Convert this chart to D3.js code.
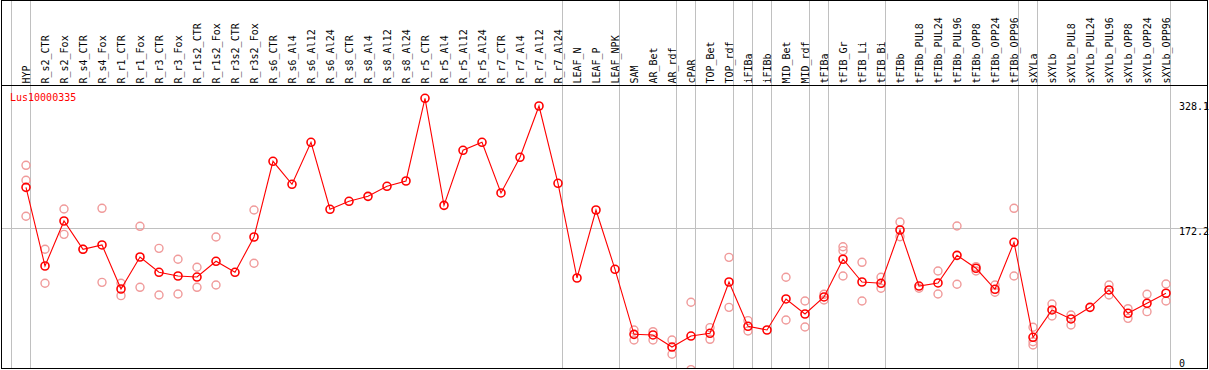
<!DOCTYPE html>
<html><head><meta charset="utf-8">
<script src="https://cdn.jsdelivr.net/npm/d3@7"></script>
<style>
html,body{margin:0;padding:0;background:#fff;}
svg{display:block;}
text{font-family:"DejaVu Sans Mono",monospace;font-size:10px;}
</style></head><body>
<svg id="chart" width="1209" height="370"></svg>
<script>
const title = "Lus10000335";
const categories = ["HYP","R_s2_CTR","R_s2_Fox","R_s4_CTR","R_s4_Fox","R_r1_CTR","R_r1_Fox","R_r3_CTR","R_r3_Fox","R_r1s2_CTR","R_r1s2_Fox","R_r3s2_CTR","R_r3s2_Fox","R_s6_CTR","R_s6_Al4","R_s6_Al12","R_s6_Al24","R_s8_CTR","R_s8_Al4","R_s8_Al12","R_s8_Al24","R_r5_CTR","R_r5_Al4","R_r5_Al12","R_r5_Al24","R_r7_CTR","R_r7_Al4","R_r7_Al12","R_r7_Al24","LEAF_N","LEAF_P","LEAF_NPK","SAM","AR_Bet","AR_rdf","cPAR","TOP_Bet","TOP_rdf","iFIBa","iFIBb","MID_Bet","MID_rdf","tFIBa","tFIB_Gr","tFIB_Li","tFIB_Bi","tFIBb","tFIBb_PUL8","tFIBb_PUL24","tFIBb_PUL96","tFIBb_OPP8","tFIBb_OPP24","tFIBb_OPP96","sXYLa","sXYLb","sXYLb_PUL8","sXYLb_PUL24","sXYLb_PUL96","sXYLb_OPP8","sXYLb_OPP24","sXYLb_OPP96"];
const means = [222.8,124.9,180.9,145.7,151.1,96.3,136.1,117.1,112.5,111.2,130.8,117.1,161.0,255.2,226.6,278.8,195.5,205.4,211.6,224.1,230.7,333.6,200.4,268.9,278.8,215.8,260.2,324.0,227.8,110.0,194.6,120.8,39.9,39.1,24.1,37.8,41.2,105.0,49.9,45.3,83.9,65.2,86.4,133.3,105.0,103.4,169.7,100.0,103.8,138.2,122.1,95.9,154.4,36.2,70.2,59.0,73.5,95.1,66.1,78.5,91.0];
const replicates = [
  [250.2,231.6,186.8],[145.7,103.4],[195.8,164.3],[145.7],[196.7,104.6],[103.4,88.0],[174.3,98.4],[146.9,88.8],[133.3,90.1],[123.3,98.4],[161.0,101.3],[],[194.6,128.3],
  [],[],[],[],[],[],[],[],[],[],[],[],[],[],[],[],[],[],[],
  [45.3,32.8],[43.2,32.8],[32.8,15.1],[79.8,-4],[48.2,33.7],[135.7,73.5],[56.9,44.0],[],[110.9,57.7],[81.4,49.0],[89.7,82.6],[148.9,144.0,112.5],[129.5,81.4],[110.9,97.2],
  [179.7,161.4],[97.2],[118.7,90.1],[174.7,102.2],[124.1,118.7],[101.3,92.2],[196.7,112.5],
  [48.7,30.7,26.6],[77.6,62.7],[64.0,51.5],[],[101.3,88.8],[71.8,59.8],[89.7,68.1],[102.5,81.4]
];
const yTickValues = [328.1, 172.2, 0];
const yTickLabels = ["328.1", "172.2", "0"];
const separatorIndices = [-1,0,28,31,34,35,37,38,39,41,42,45,52,53,60];

const W = 1209, H = 370;
const svg = d3.select("#chart");
const x = d3.scaleLinear().domain([0, categories.length - 1]).range([26, 1166]);
const y = d3.scaleLinear().domain([0, 328.1]).range([366.4, 102.7]);

svg.append("defs").append("clipPath").attr("id","plot")
  .append("rect").attr("x",2).attr("y",86).attr("width",1205).attr("height",282);

// vertical separators
svg.append("g").selectAll("line").data(separatorIndices).join("line")
  .attr("x1", d => Math.round(x(d)) + 4.5).attr("x2", d => Math.round(x(d)) + 4.5)
  .attr("y1", 0).attr("y2", 369)
  .attr("stroke", "#c0c0c0").attr("stroke-width", 1).attr("shape-rendering","crispEdges");

// horizontal gridline at mid tick
svg.append("line").attr("x1", 1).attr("x2", 1208)
  .attr("y1", Math.round(y(172.2)) + 0.5).attr("y2", Math.round(y(172.2)) + 0.5)
  .attr("stroke", "#c0c0c0").attr("shape-rendering","crispEdges");

// category labels
svg.append("g").selectAll("text").data(categories).join("text")
  .attr("transform", (d,i) => `translate(${x(i) + 3.8},83.5) rotate(-90)`)
  .attr("text-anchor", "start").attr("fill", "#000").text(d => d);

// y tick labels
svg.append("g").selectAll("text").data(yTickValues).join("text")
  .attr("x", 1179).attr("y", d => Math.min(y(d), 359.5))
  .attr("dominant-baseline", "hanging").attr("fill", "#000")
  .text((d,i) => yTickLabels[i]);

// title
svg.append("text").attr("x", 10).attr("y", 100.7).attr("fill", "#ff0000").text(title);

const plot = svg.append("g").attr("clip-path","url(#plot)");

// replicates
const reps = [];
replicates.forEach((arr, i) => arr.forEach(v => reps.push({i, v})));
plot.append("g").selectAll("circle").data(reps).join("circle")
  .attr("cx", d => x(d.i)).attr("cy", d => y(d.v)).attr("r", 4)
  .attr("fill", "none").attr("stroke", "#f09a9a").attr("stroke-width", 1.4);

// mean line
plot.append("path").datum(means)
  .attr("d", d3.line().x((d,i) => x(i)).y(d => y(d)))
  .attr("fill", "none").attr("stroke", "#ff0000").attr("stroke-width", 1.1);

plot.append("g").selectAll("circle").data(means).join("circle")
  .attr("cx", (d,i) => x(i)).attr("cy", d => y(d)).attr("r", 4)
  .attr("fill", "none").attr("stroke", "#ff0000").attr("stroke-width", 1.6);

// frame
svg.append("line").attr("x1",1).attr("x2",1208).attr("y1",85.5).attr("y2",85.5).attr("stroke","#000").attr("shape-rendering","crispEdges");
svg.append("rect").attr("x",1.5).attr("y",0.5).attr("width",1206).attr("height",368)
  .attr("fill","none").attr("stroke","#000").attr("shape-rendering","crispEdges");
</script>
</body></html>
